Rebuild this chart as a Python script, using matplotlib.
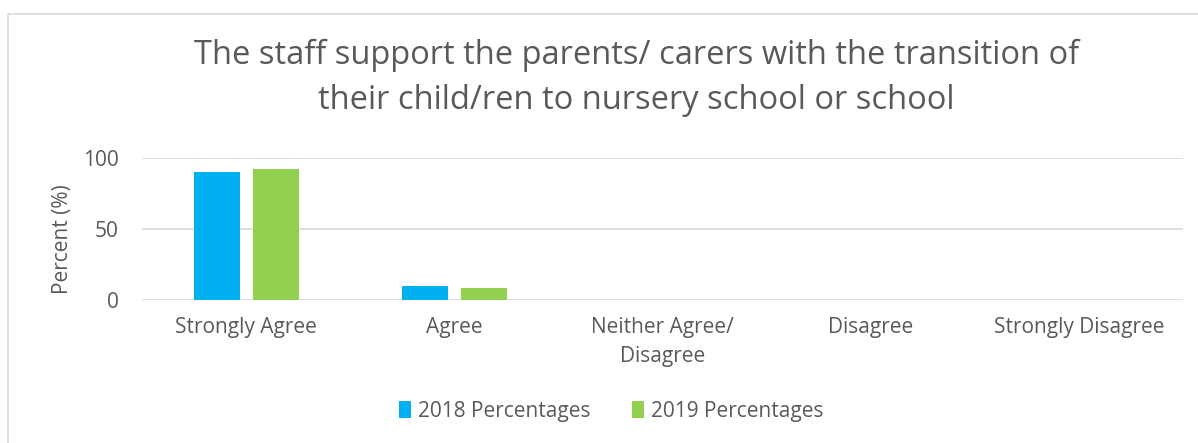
import numpy as np
import matplotlib.pyplot as plt
from matplotlib.patches import Rectangle

# ------------------------------
# Data
# ------------------------------
categories = ["Strongly Agree", "Agree", "Neither Agree/\nDisagree", "Disagree", "Strongly Disagree"]
pct_2018 = [90, 10, 0, 0, 0]
pct_2019 = [92, 8.5, 0, 0, 0]
series_names = ["2018 Percentages", "2019 Percentages"]

title = "The staff support the parents/ carers with the transition of\ntheir child/ren to nursery school or school"

text_col = "#595959"
plt.rcParams['font.family'] = ['Open Sans', 'DejaVu Sans']

fig = plt.figure(figsize=(11.98, 4.43), dpi=100)

# chart frame
fig.patches.append(Rectangle((8 / 1198, -0.01), 1.0, 1 - 14 / 443 + 0.01,
                             transform=fig.transFigure, fill=False,
                             edgecolor="#d9d9d9", linewidth=1.2))

ax = fig.add_axes([142 / 1198, 1 - 300 / 443, (1183 - 142) / 1198, 142 / 443])

x = np.arange(len(categories))
w = 0.221
gap = 0.0625
ax.bar(x - (w + gap) / 2, pct_2018, w, color="#00b0f0", label=series_names[0], zorder=3)
ax.bar(x + (w + gap) / 2, pct_2019, w, color="#92d050", label=series_names[1], zorder=3)

ax.set_xlim(-0.5, len(categories) - 0.5)
ax.set_ylim(0, 100)
ax.set_yticks([0, 50, 100])
ax.grid(axis='y', color="#d9d9d9", linewidth=1.2, zorder=0)
for s in ax.spines.values():
    s.set_visible(False)
ax.tick_params(length=0, labelsize=15, colors=text_col)
ax.tick_params(axis='y', pad=17)
ax.tick_params(axis='x', pad=12)
ax.set_xticks(x)
ax.set_xticklabels(categories, linespacing=1.5)
ax.set_ylabel("Percent (%)", fontsize=15, color=text_col)
ax.yaxis.set_label_coords(-0.066, 0.43)

fig.text(0.531, 1 - 78 / 443, title, ha='center', va='center',
         fontsize=23.5, color=text_col, linespacing=1.5)

fig.legend(loc='center', bbox_to_anchor=(0.51, 1 - 411 / 443), ncol=2,
           frameon=False, fontsize=15, handlelength=0.6, handleheight=0.9,
           handletextpad=0.3, columnspacing=2.0, labelcolor=text_col)

plt.savefig("out.png", dpi=100)
